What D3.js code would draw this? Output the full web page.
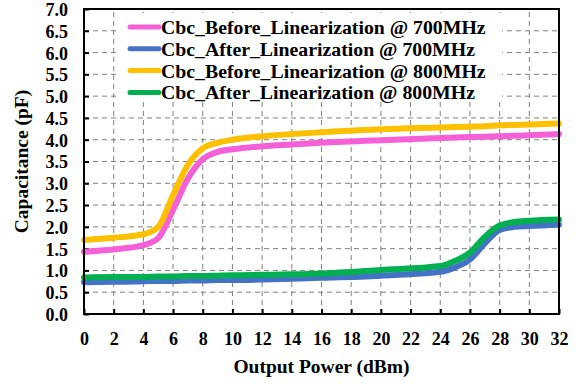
<!DOCTYPE html>
<html>
<head>
<meta charset="utf-8">
<script src="https://cdn.jsdelivr.net/npm/d3@7"></script>
<style>
  html, body { margin: 0; padding: 0; background: #fff; }
  svg { display: block; }
  text { font-family: "Liberation Serif", "Times New Roman", serif; font-weight: bold; fill: #000; }
</style>
</head>
<body>
<svg id="chart" width="580" height="384"></svg>
<script>
// Output power (dBm) sample points
const power = [0, 2, 4, 5, 6, 7, 8, 9, 10, 12, 14, 16, 20, 24, 25, 26, 27, 28, 29, 30, 32];

// Capacitance (pF) per series
const before700 = [1.43, 1.48, 1.58, 1.74, 2.39, 3.11, 3.55, 3.72, 3.78, 3.85, 3.89, 3.93, 3.99, 4.04, 4.05, 4.06, 4.07, 4.08, 4.09, 4.10, 4.13];
const after700  = [0.73, 0.74, 0.75, 0.76, 0.76, 0.77, 0.77, 0.78, 0.78, 0.79, 0.81, 0.83, 0.88, 0.97, 1.07, 1.25, 1.62, 1.93, 2.00, 2.02, 2.05];
const before800 = [1.70, 1.75, 1.83, 2.00, 2.73, 3.42, 3.80, 3.93, 4.00, 4.08, 4.13, 4.17, 4.24, 4.28, 4.29, 4.30, 4.31, 4.33, 4.34, 4.35, 4.37];
const after800  = [0.84, 0.85, 0.85, 0.86, 0.86, 0.87, 0.87, 0.88, 0.89, 0.90, 0.91, 0.93, 1.01, 1.10, 1.22, 1.41, 1.77, 2.03, 2.11, 2.14, 2.17];

const seriesNames = [
  "Cbc_Before_Linearization @ 700MHz",
  "Cbc_After_Linearization @ 700MHz",
  "Cbc_Before_Linearization @ 800MHz",
  "Cbc_After_Linearization @ 800MHz"
];
const seriesValues = [before700, after700, before800, after800];
const seriesColors = ["#F560D6", "#4472C4", "#FFC000", "#00B050"];

const xTicks = d3.range(0, 33, 2);
const yTicks = d3.range(0, 7.01, 0.5);

const margin = { left: 84, right: 21, top: 9, bottom: 70 };
const W = 580, H = 384;
const svg = d3.select("#chart");

const x = d3.scaleLinear().domain([0, 32]).range([margin.left, W - margin.right]);
const y = d3.scaleLinear().domain([0, 7]).range([H - margin.bottom, margin.top]);

// dashed grid
const grid = svg.append("g").attr("stroke", "#808080").attr("stroke-width", 1).attr("stroke-dasharray", "5,4");
grid.selectAll(".gx").data(xTicks.slice(1, -1)).join("line")
  .attr("x1", d => x(d)).attr("x2", d => x(d))
  .attr("y1", y(0)).attr("y2", y(7));
grid.selectAll(".gy").data(yTicks.slice(1, -1)).join("line")
  .attr("y1", d => y(d)).attr("y2", d => y(d))
  .attr("x1", x(0)).attr("x2", x(32));

// axes with inward ticks
const xAxis = d3.axisBottom(x).tickValues(xTicks).tickSizeInner(-5).tickSizeOuter(0).tickPadding(18).tickFormat(d3.format("d"));
const yAxis = d3.axisLeft(y).tickValues(yTicks).tickSizeInner(-5).tickSizeOuter(0).tickPadding(16).tickFormat(d3.format(".1f"));

const gx = svg.append("g").attr("transform", `translate(0,${y(0)})`).call(xAxis);
const gy = svg.append("g").attr("transform", `translate(${x(0)},0)`).call(yAxis);
[gx, gy].forEach(g => {
  g.select(".domain").remove();
  g.selectAll(".tick line").attr("stroke", "#000").attr("stroke-width", 2);
  g.selectAll(".tick text").style("font-size", "18px").style("font-family", "'Liberation Serif', serif").style("font-weight", "bold");
});
gy.selectAll(".tick text").attr("dy", "0.36em");

// legend backdrop
const legend = svg.append("g");
legend.append("rect").attr("x", 117).attr("y", 13).attr("width", 385).attr("height", 87).attr("fill", "#fff");

// series lines
const line = d3.line().curve(d3.curveMonotoneX);
seriesValues.forEach((vals, i) => {
  svg.append("path")
    .attr("d", line(power.map((p, j) => [x(p), y(vals[j])])))
    .attr("fill", "none")
    .attr("stroke", seriesColors[i])
    .attr("stroke-width", 6)
    .attr("stroke-linejoin", "round")
    .attr("stroke-linecap", "round");
});

// legend entries
seriesNames.forEach((name, i) => {
  const ly = 27 + i * 21.8;
  legend.append("line").attr("x1", 130).attr("x2", 159).attr("y1", ly).attr("y2", ly)
    .attr("stroke", seriesColors[i]).attr("stroke-width", 5).attr("stroke-linecap", "round");
  legend.append("text").attr("x", 161).attr("y", ly).attr("dy", "0.35em")
    .style("font-size", "19.8px").text(name);
});

// plot frame
svg.append("rect")
  .attr("x", x(0)).attr("y", y(7))
  .attr("width", x(32) - x(0)).attr("height", y(0) - y(7))
  .attr("fill", "none").attr("stroke", "#000").attr("stroke-width", 2);

// axis titles
svg.append("text").attr("x", (x(0) + x(32)) / 2).attr("y", 373)
  .attr("text-anchor", "middle").style("font-size", "19.5px").text("Output Power (dBm)");
svg.append("text").attr("transform", `translate(28,${(y(0) + y(7)) / 2}) rotate(-90)`)
  .attr("text-anchor", "middle").style("font-size", "19.5px").text("Capacitance (pF)");
</script>
</body>
</html>
